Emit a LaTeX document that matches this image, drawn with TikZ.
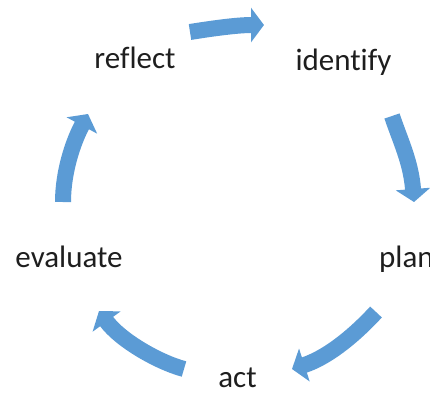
\documentclass[tikz,border=0pt]{standalone}
\usepackage{fontspec}
\setmainfont[Ligatures=NoCommon]{Carlito}
\usetikzlibrary{arrows.meta}
\definecolor{cycleblue}{RGB}{91,155,213}
\definecolor{labeltext}{RGB}{30,30,30}
\begin{document}
\begin{tikzpicture}[x=1pt,y=-1pt,
  lbl/.style={inner sep=0pt,text=labeltext,font=\fontsize{31}{36}\selectfont},
  cyclearrow/.style={draw=cycleblue,line width=16pt,
    -{Triangle[width=34pt,length=13pt]}}]
\useasboundingbox (0,0) rectangle (430,392);
\clip (0,0) rectangle (430,392);
\node[lbl,anchor=base] (reflect) at (135,68) {reflect};
\node[lbl,anchor=base] (identify) at (343.5,70) {identify};
\node[lbl,anchor=base west] (plan) at (379,267) {plan};
\node[lbl,anchor=base] (act) at (237.5,387) {act};
\node[lbl,anchor=base] (evaluate) at (69,267) {evaluate};
\coordinate (t1) at (190,32);  \coordinate (h1) at (264,25);
\coordinate (t2) at (392,116); \coordinate (h2) at (414,202);
\coordinate (t3) at (376,312); \coordinate (h3) at (292,369);
\coordinate (t4) at (184,369); \coordinate (h4) at (99,311);
\coordinate (t5) at (63,202);  \coordinate (h5) at (88,114);
\draw[cyclearrow] (t1) .. controls (215,28) and (238,25) .. (h1);
\draw[cyclearrow] (t2) .. controls (400,140) and (411,162) .. (h2);
\draw[cyclearrow] (t3) .. controls (352,338) and (326,358) .. (h3);
\draw[cyclearrow] (t4) .. controls (158,362) and (120,340) .. (h4);
\draw[cyclearrow] (t5) .. controls (63,172) and (73,142) .. (h5);
\end{tikzpicture}
\end{document}
